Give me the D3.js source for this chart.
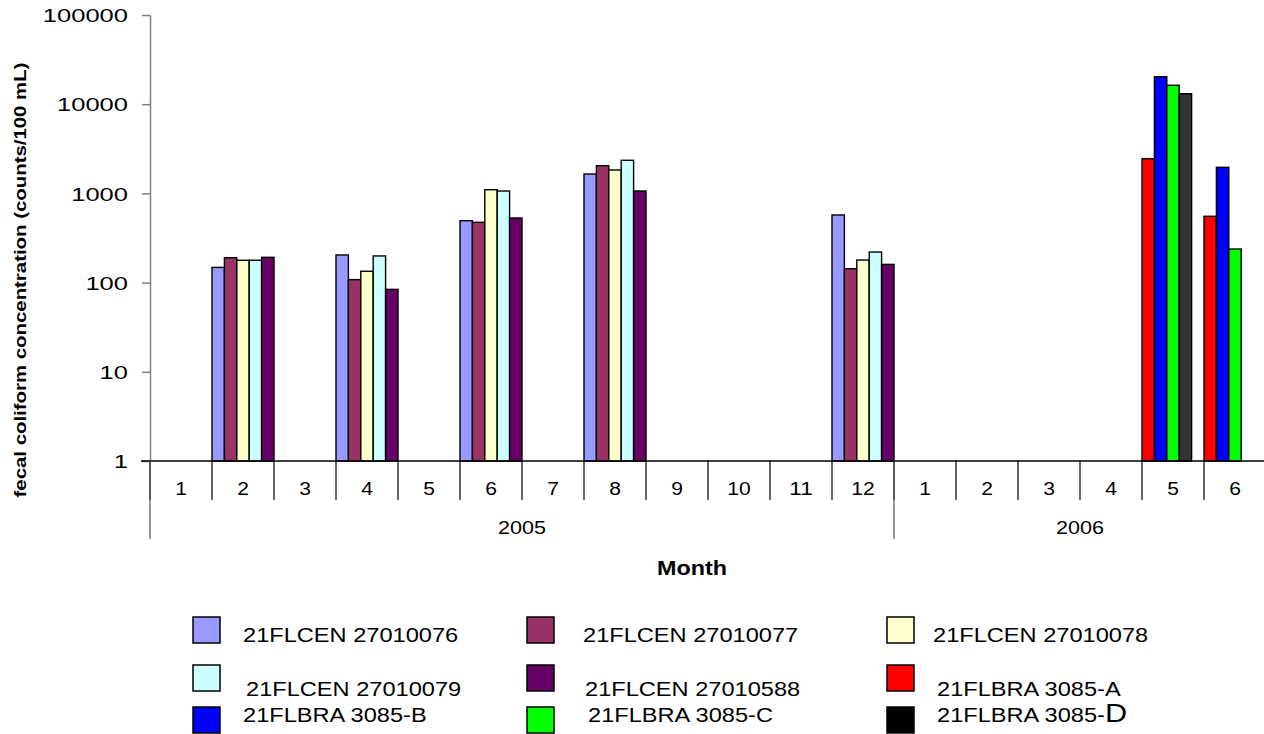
<!DOCTYPE html>
<html>
<head>
<meta charset="utf-8">
<script src="https://cdn.jsdelivr.net/npm/d3@7"></script>
<style>
  html, body { margin: 0; padding: 0; background: #fff; }
  svg { display: block; font-family: Arial, "Liberation Sans", sans-serif; }
</style>
</head>
<body>
<svg id="chart" width="1264" height="734"></svg>
<script>
// ---- data ----
const months = ["1","2","3","4","5","6","7","8","9","10","11","12","1","2","3","4","5","6"];
const years = ["2005","2006"];
const yearSpans = [12, 6];
const seriesNames = ["21FLCEN 27010076","21FLCEN 27010077","21FLCEN 27010078",
  "21FLCEN 27010079","21FLCEN 27010588","21FLBRA 3085-A",
  "21FLBRA 3085-B","21FLBRA 3085-C","21FLBRA 3085-D"];
const seriesColors = ["#9999FF","#993366","#FFFFCC","#CCFFFF","#660066","#FF0000","#0000FF","#00FF00","#333333"];
const legendColors = ["#9999FF","#993366","#FFFFCC","#CCFFFF","#660066","#FF0000","#0000FF","#00FF00","#000000"];
const N = null;
const s27010076 = [N,148,N,204,N,494,N,1650,N,N,N,573, N,N,N,N,N,N];
const s27010077 = [N,190,N,108,N,474,N,2045,N,N,N,143, N,N,N,N,N,N];
const s27010078 = [N,178,N,134,N,1100,N,1830,N,N,N,179, N,N,N,N,N,N];
const s27010079 = [N,178,N,199,N,1064,N,2350,N,N,N,220, N,N,N,N,N,N];
const s27010588 = [N,192,N,84,N,530,N,1064,N,N,N,160, N,N,N,N,N,N];
const s3085A = [N,N,N,N,N,N,N,N,N,N,N,N, N,N,N,N,2450,554];
const s3085B = [N,N,N,N,N,N,N,N,N,N,N,N, N,N,N,N,20300,1960];
const s3085C = [N,N,N,N,N,N,N,N,N,N,N,N, N,N,N,N,16300,238];
const s3085D = [N,N,N,N,N,N,N,N,N,N,N,N, N,N,N,N,13100,N];
const seriesValues = [s27010076,s27010077,s27010078,s27010079,s27010588,s3085A,s3085B,s3085C,s3085D];
const yTicks = [1,10,100,1000,10000,100000];
const yTitle = "fecal coliform concentration (counts/100 mL)";
const xTitle = "Month";

// ---- layout ----
const svg = d3.select("#chart");
const pLeft = 150, pRight = 1266, pTop = 15, pBottom = 461;
const x = d3.scaleBand().domain(d3.range(months.length)).range([pLeft, pRight]).padding(0);
const y = d3.scaleLog().domain([1, 100000]).range([pBottom, pTop]);
const barW = x.bandwidth() / 5;

// bars
const bars = [];
months.forEach((m, i) => {
  let k = 0;
  seriesValues.forEach((vals, s) => {
    const v = vals[i];
    if (v != null) { bars.push({i, s, v, k}); k++; }
  });
});
svg.append("g").selectAll("rect").data(bars).join("rect")
  .attr("x", d => x(d.i) + d.k * barW)
  .attr("y", d => y(d.v))
  .attr("width", barW)
  .attr("height", d => y(1) - y(d.v))
  .attr("fill", d => seriesColors[d.s])
  .attr("stroke", "#000")
  .attr("stroke-width", 1.4);

// y axis
const yAxis = svg.append("g").attr("transform", `translate(${pLeft},0)`)
  .call(d3.axisLeft(y).tickValues(yTicks).tickFormat(d3.format("d")).tickSize(8).tickSizeOuter(0));
yAxis.select(".domain").attr("stroke", "#808080").attr("stroke-width", 1.5);
yAxis.selectAll(".tick line").attr("stroke", "#808080").attr("stroke-width", 1.5);
yAxis.selectAll(".tick text")
  .attr("x", -22).attr("dy", "0.36em")
  .attr("font-size", 18.5).attr("fill", "#000")
  .attr("font-family", "Arial, 'Liberation Sans', sans-serif")
  .attr("textLength", d => String(d).length * 14.2)
  .attr("lengthAdjust", "spacingAndGlyphs");

// x axis line
svg.append("line").attr("x1", pLeft - 9).attr("x2", pRight).attr("y1", pBottom).attr("y2", pBottom)
  .attr("stroke", "#000").attr("stroke-width", 1.5);
// month dividers
const divG = svg.append("g");
d3.range(months.length + 1).forEach(i => {
  const xx = i < months.length ? x(i) : pRight;
  divG.append("line").attr("x1", xx).attr("x2", xx).attr("y1", pBottom).attr("y2", 500)
    .attr("stroke", "#000").attr("stroke-width", 1.2);
});
// year dividers
let acc = 0;
const yearBounds = [0];
yearSpans.forEach(s => { acc += s; yearBounds.push(acc); });
yearBounds.forEach(b => {
  const xx = b < months.length ? x(b) : pRight;
  divG.append("line").attr("x1", xx).attr("x2", xx).attr("y1", pBottom).attr("y2", 539)
    .attr("stroke", "#555").attr("stroke-width", 1.2);
});
// month labels
svg.append("g").selectAll("text").data(months).join("text")
  .attr("x", (d, i) => x(i) + x.bandwidth() / 2)
  .attr("y", 495)
  .attr("text-anchor", "middle")
  .attr("font-size", 18)
  .attr("textLength", d => d.length * 11.7)
  .attr("lengthAdjust", "spacingAndGlyphs")
  .text(d => d);
// year labels
svg.append("g").selectAll("text").data(years).join("text")
  .attr("x", (d, i) => {
    const a = x(yearBounds[i]);
    const b = yearBounds[i + 1] < months.length ? x(yearBounds[i + 1]) : pRight;
    return (a + b) / 2;
  })
  .attr("y", 534)
  .attr("text-anchor", "middle")
  .attr("font-size", 18)
  .attr("textLength", 48)
  .attr("lengthAdjust", "spacingAndGlyphs")
  .text(d => d);
// x title
svg.append("text").attr("x", 692).attr("y", 575).attr("text-anchor", "middle")
  .attr("font-size", 20).attr("font-weight", "bold")
  .attr("textLength", 70).attr("lengthAdjust", "spacingAndGlyphs")
  .text(xTitle);
// y title
svg.append("text").attr("transform", "translate(26,280) rotate(-90)")
  .attr("text-anchor", "middle")
  .attr("font-size", 17).attr("font-weight", "bold")
  .attr("textLength", 435).attr("lengthAdjust", "spacingAndGlyphs")
  .text(yTitle);

// legend
const legSwX = [193, 527, 887, 193, 527, 887, 193, 527, 887];
const legSwY = [617, 617, 617, 665, 665, 665, 707, 707, 707];
const legTxX = [243, 583, 933, 246, 585, 937, 243, 588, 937];
const legTxY = [642, 642, 642, 696, 696, 696, 722, 722, 722];
const lg = svg.append("g");
seriesNames.forEach((name, s) => {
  lg.append("rect").attr("x", legSwX[s]).attr("y", legSwY[s]).attr("width", 27).attr("height", 26)
    .attr("fill", legendColors[s]).attr("stroke", "#000").attr("stroke-width", 1.5);
  const t = lg.append("text").attr("x", legTxX[s]).attr("y", legTxY[s]).attr("font-size", 20);
  if (s === 8) {
    t.append("tspan").text(name.slice(0, -1));
    t.append("tspan").attr("font-size", 26).text(name.slice(-1));
  } else {
    t.text(name);
  }
  const w = t.node().getComputedTextLength();
  t.attr("textLength", w * 1.18).attr("lengthAdjust", "spacingAndGlyphs");
});
</script>
</body>
</html>
